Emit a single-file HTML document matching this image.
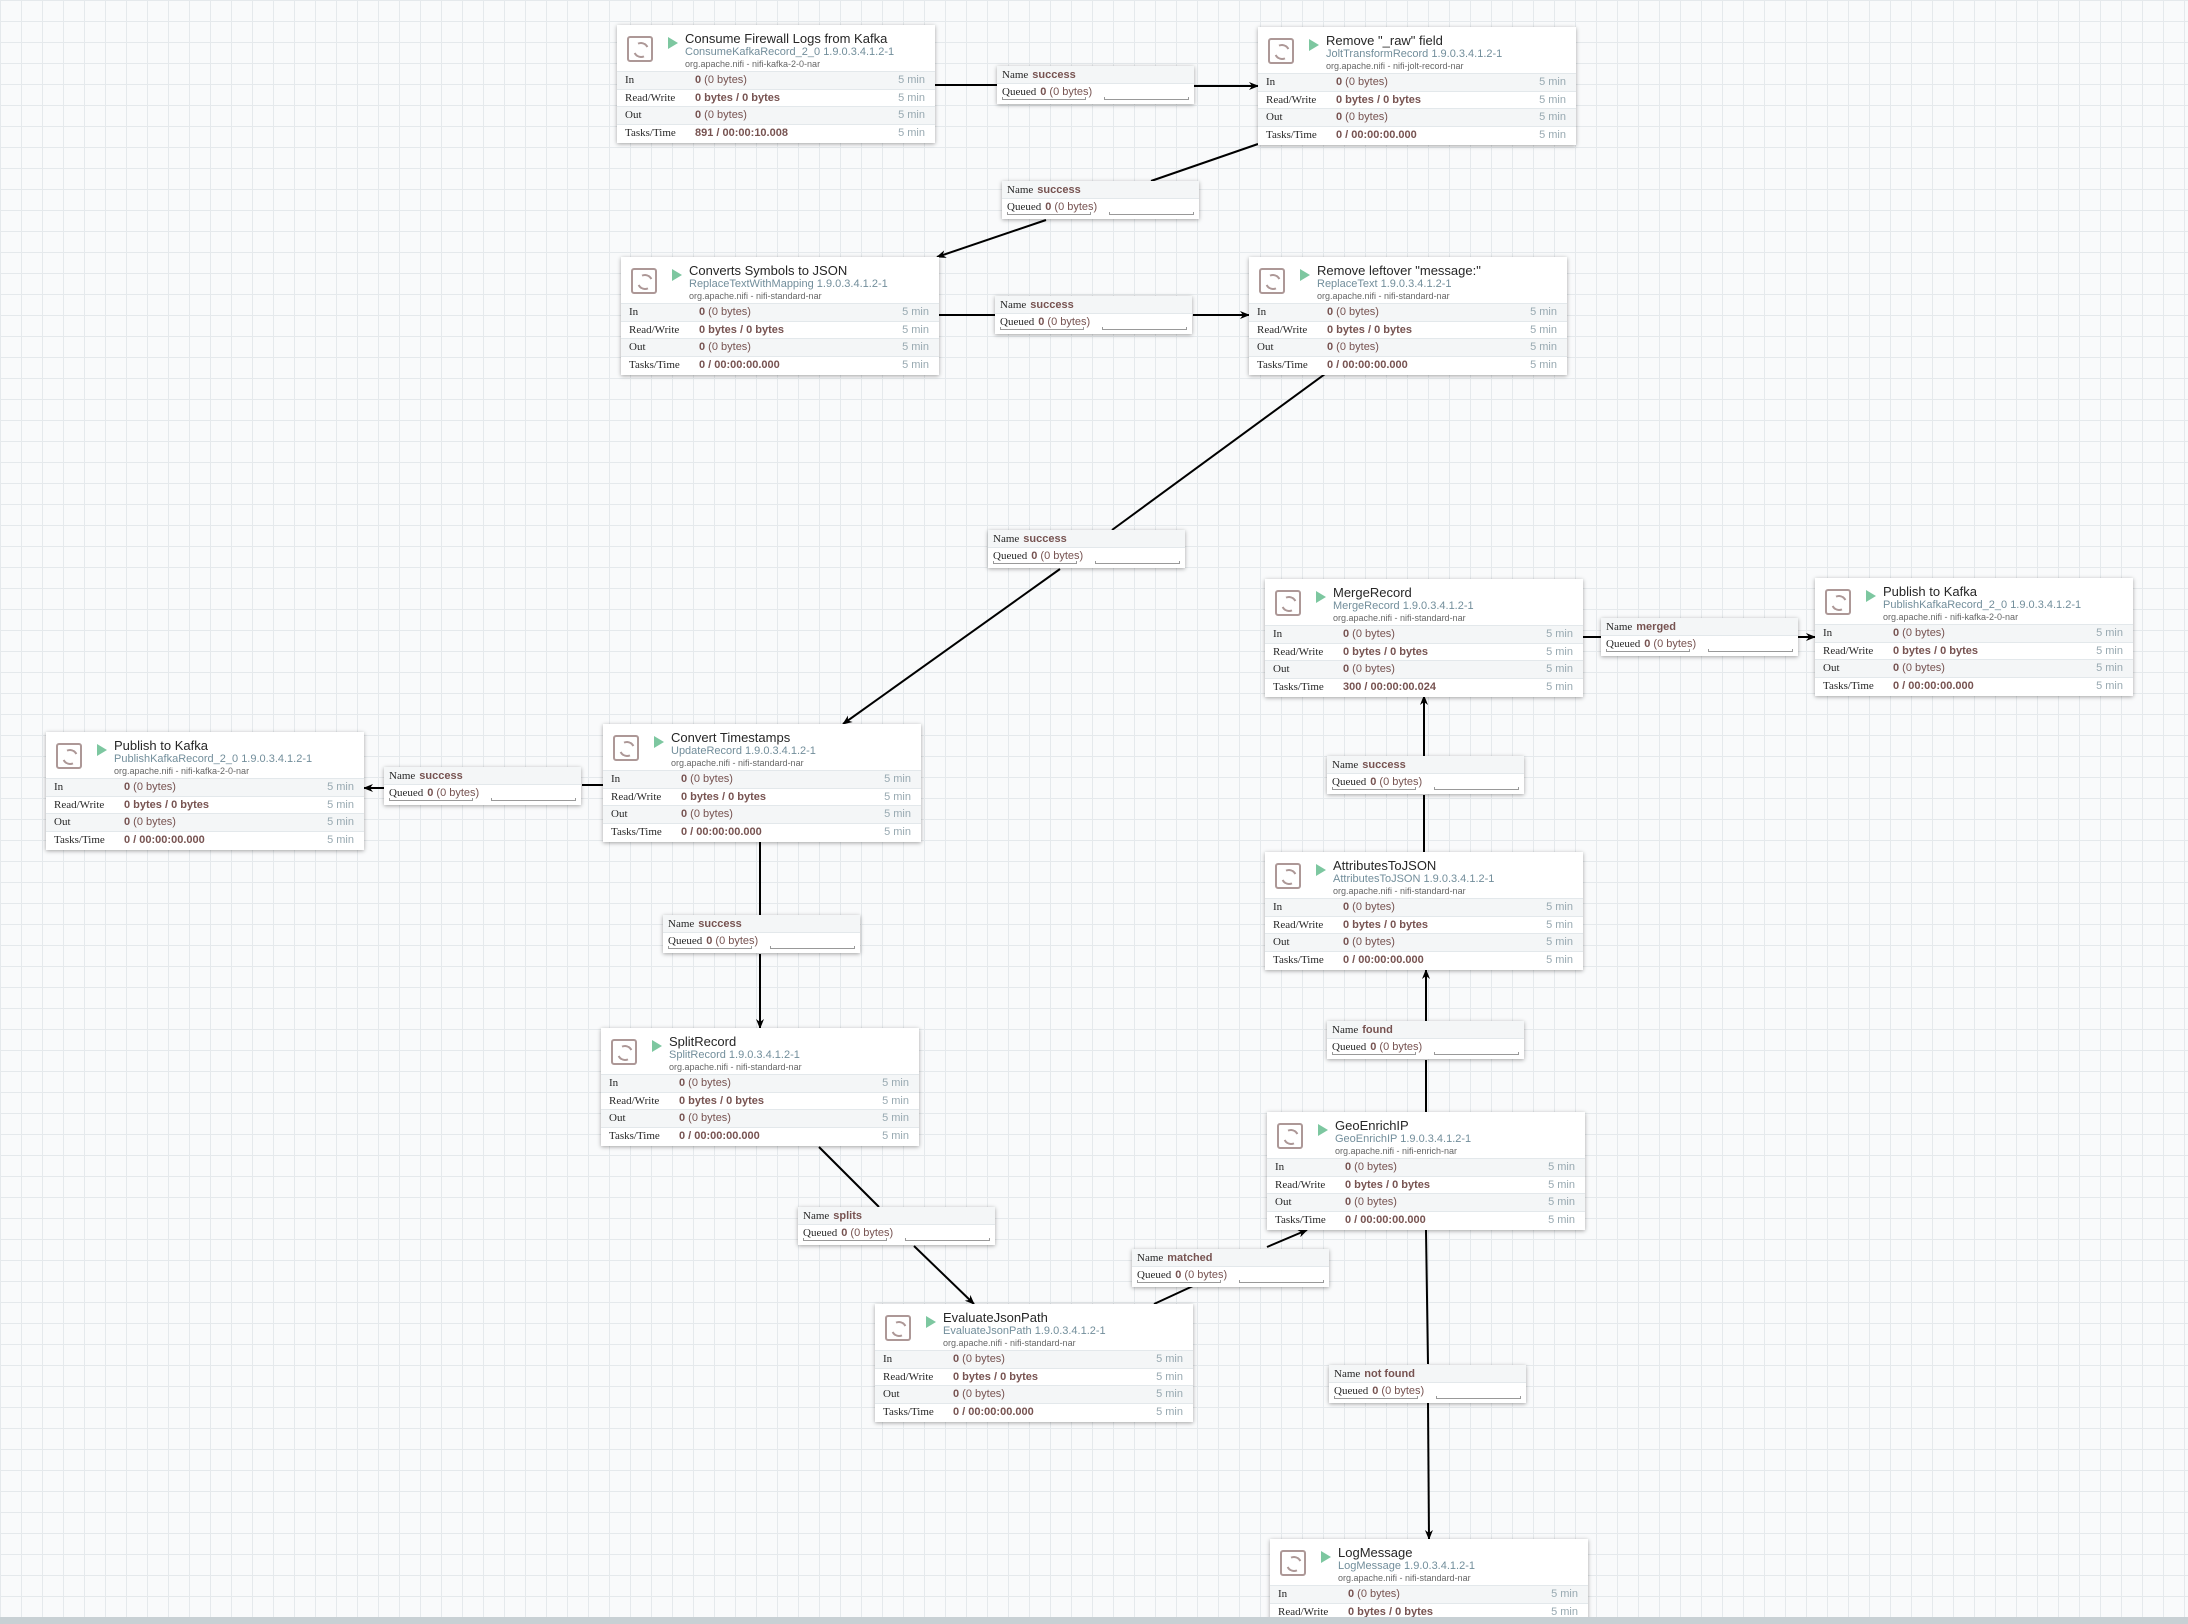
<!DOCTYPE html>
<html><head><meta charset="utf-8"><style>
*{margin:0;padding:0;box-sizing:border-box}
html,body{width:2188px;height:1624px;overflow:hidden}
body{position:relative;background-color:#f9fafb;
background-image:linear-gradient(#e5e9ec 1px,transparent 1px),linear-gradient(90deg,#e5e9ec 1px,transparent 1px);
background-size:21px 21px;font-family:"Liberation Sans",sans-serif}
.p{position:absolute;width:318px;height:118px;background:#fff;box-shadow:0 1px 4px rgba(0,0,0,.35)}
.ic{position:absolute;left:10px;top:11px;width:26px;height:26px;border:2px solid #ad9897;border-radius:3px}
.ic:after{content:"";position:absolute;left:4px;top:4px;width:12px;height:12px;border:2px solid #ad9897;border-radius:50%;border-left-color:transparent;border-right-color:transparent;transform:rotate(20deg)}
.pl{position:absolute;left:51px;top:12px;width:0;height:0;border-left:10px solid #7dc7a0;border-top:6px solid transparent;border-bottom:6px solid transparent}
.t{position:absolute;left:68px;top:6px;font-size:13px;color:#262626;white-space:nowrap}
.ty{position:absolute;left:68px;top:21px;font-size:11px;color:#728e9b;white-space:nowrap}
.b{position:absolute;left:68px;top:34px;font-size:9px;color:#666;white-space:nowrap}
.rows{position:absolute;left:0;right:0;top:46px}
.r{height:17.5px;position:relative;font-size:11px;line-height:17px;border-top:1px solid #e3e8eb}
.r:nth-child(odd){background:#f4f6f7}
.k{position:absolute;left:8px;font-family:"Liberation Serif",serif;color:#262626}
.v{position:absolute;left:78px;color:#775351}
.m{position:absolute;right:10px;color:#98a9b1}
.c{position:absolute;width:197px;height:38px;background:#fff;box-shadow:0 1px 4px rgba(0,0,0,.35);font-size:11px}
.c .n{height:18px;background:#f4f6f7;line-height:18px;padding-left:5px;font-family:"Liberation Serif",serif;color:#262626;border-bottom:1px solid #e3e8eb}
.c .n b{font-family:"Liberation Sans",sans-serif;color:#775351;margin-left:4px}
.c .q{height:19px;line-height:16px;padding-left:5px;font-family:"Liberation Serif",serif;color:#262626;position:relative}
.c .q span{font-family:"Liberation Sans",sans-serif;color:#775351;margin-left:4px}
.c .q i{position:absolute;bottom:3px;height:3px;border:1px solid #999;border-top:none;left:5px;width:84px}
.c .q i+i{left:107px;width:85px}
.bar{position:absolute;left:0;right:0;top:1617px;height:7px;background:#c8d0d4}
svg{position:absolute;left:0;top:0}
</style></head><body>
<svg width="2188" height="1624">
<defs><marker id="a" markerWidth="10" markerHeight="10" refX="9" refY="5" orient="auto" markerUnits="userSpaceOnUse"><path d="M0,1 L10,5 L0,9 L3,5 z" fill="#000"/></marker></defs>
<g stroke="#000" stroke-width="2" fill="none">
<line x1="933" y1="85" x2="997" y2="85"/><line x1="1194" y1="86" x2="1258" y2="86" marker-end="url(#a)"/>
<line x1="1258" y1="144" x2="1151" y2="181"/><line x1="1046" y1="220" x2="937" y2="257" marker-end="url(#a)"/>
<line x1="937" y1="315" x2="995" y2="315"/><line x1="1193" y1="315" x2="1249" y2="315" marker-end="url(#a)"/>
<line x1="1325" y1="374" x2="1112" y2="530"/><line x1="1060" y1="569" x2="843" y2="724" marker-end="url(#a)"/>
<line x1="603" y1="785" x2="582" y2="785"/><line x1="384" y1="788" x2="364" y2="788" marker-end="url(#a)"/>
<line x1="760" y1="842" x2="760" y2="915"/><line x1="760" y1="954" x2="760" y2="1028" marker-end="url(#a)"/>
<line x1="819" y1="1147" x2="879" y2="1207"/><line x1="914" y1="1246" x2="974" y2="1304" marker-end="url(#a)"/>
<line x1="1154" y1="1304" x2="1193" y2="1286"/><line x1="1267" y1="1247" x2="1307" y2="1230" marker-end="url(#a)"/>
<line x1="1426" y1="1112" x2="1426" y2="1060"/><line x1="1426" y1="1021" x2="1426" y2="970" marker-end="url(#a)"/>
<line x1="1424" y1="852" x2="1424" y2="795"/><line x1="1424" y1="756" x2="1424" y2="696" marker-end="url(#a)"/>
<line x1="1583" y1="637" x2="1601" y2="637"/><line x1="1798" y1="637" x2="1815" y2="637" marker-end="url(#a)"/>
<line x1="1426" y1="1230" x2="1428" y2="1364"/><line x1="1428" y1="1403" x2="1429" y2="1539" marker-end="url(#a)"/>
</g></svg>

<div class="p" style="left:617px;top:25px"><div class="ic"></div><div class="pl"></div><div class="t">Consume Firewall Logs from Kafka</div><div class="ty">ConsumeKafkaRecord_2_0 1.9.0.3.4.1.2-1</div><div class="b">org.apache.nifi - nifi-kafka-2-0-nar</div><div class="rows"><div class="r"><span class="k">In</span><span class="v"><b>0</b> (0 bytes)</span><span class="m">5 min</span></div><div class="r"><span class="k">Read/Write</span><span class="v"><b>0 bytes / 0 bytes</b></span><span class="m">5 min</span></div><div class="r"><span class="k">Out</span><span class="v"><b>0</b> (0 bytes)</span><span class="m">5 min</span></div><div class="r"><span class="k">Tasks/Time</span><span class="v"><b>891 / 00:00:10.008</b></span><span class="m">5 min</span></div></div></div>

<div class="p" style="left:1258px;top:27px"><div class="ic"></div><div class="pl"></div><div class="t">Remove "_raw" field</div><div class="ty">JoltTransformRecord 1.9.0.3.4.1.2-1</div><div class="b">org.apache.nifi - nifi-jolt-record-nar</div><div class="rows"><div class="r"><span class="k">In</span><span class="v"><b>0</b> (0 bytes)</span><span class="m">5 min</span></div><div class="r"><span class="k">Read/Write</span><span class="v"><b>0 bytes / 0 bytes</b></span><span class="m">5 min</span></div><div class="r"><span class="k">Out</span><span class="v"><b>0</b> (0 bytes)</span><span class="m">5 min</span></div><div class="r"><span class="k">Tasks/Time</span><span class="v"><b>0 / 00:00:00.000</b></span><span class="m">5 min</span></div></div></div>

<div class="p" style="left:621px;top:257px"><div class="ic"></div><div class="pl"></div><div class="t">Converts Symbols to JSON</div><div class="ty">ReplaceTextWithMapping 1.9.0.3.4.1.2-1</div><div class="b">org.apache.nifi - nifi-standard-nar</div><div class="rows"><div class="r"><span class="k">In</span><span class="v"><b>0</b> (0 bytes)</span><span class="m">5 min</span></div><div class="r"><span class="k">Read/Write</span><span class="v"><b>0 bytes / 0 bytes</b></span><span class="m">5 min</span></div><div class="r"><span class="k">Out</span><span class="v"><b>0</b> (0 bytes)</span><span class="m">5 min</span></div><div class="r"><span class="k">Tasks/Time</span><span class="v"><b>0 / 00:00:00.000</b></span><span class="m">5 min</span></div></div></div>

<div class="p" style="left:1249px;top:257px"><div class="ic"></div><div class="pl"></div><div class="t">Remove leftover "message:"</div><div class="ty">ReplaceText 1.9.0.3.4.1.2-1</div><div class="b">org.apache.nifi - nifi-standard-nar</div><div class="rows"><div class="r"><span class="k">In</span><span class="v"><b>0</b> (0 bytes)</span><span class="m">5 min</span></div><div class="r"><span class="k">Read/Write</span><span class="v"><b>0 bytes / 0 bytes</b></span><span class="m">5 min</span></div><div class="r"><span class="k">Out</span><span class="v"><b>0</b> (0 bytes)</span><span class="m">5 min</span></div><div class="r"><span class="k">Tasks/Time</span><span class="v"><b>0 / 00:00:00.000</b></span><span class="m">5 min</span></div></div></div>

<div class="p" style="left:1265px;top:579px"><div class="ic"></div><div class="pl"></div><div class="t">MergeRecord</div><div class="ty">MergeRecord 1.9.0.3.4.1.2-1</div><div class="b">org.apache.nifi - nifi-standard-nar</div><div class="rows"><div class="r"><span class="k">In</span><span class="v"><b>0</b> (0 bytes)</span><span class="m">5 min</span></div><div class="r"><span class="k">Read/Write</span><span class="v"><b>0 bytes / 0 bytes</b></span><span class="m">5 min</span></div><div class="r"><span class="k">Out</span><span class="v"><b>0</b> (0 bytes)</span><span class="m">5 min</span></div><div class="r"><span class="k">Tasks/Time</span><span class="v"><b>300 / 00:00:00.024</b></span><span class="m">5 min</span></div></div></div>

<div class="p" style="left:1815px;top:578px"><div class="ic"></div><div class="pl"></div><div class="t">Publish to Kafka</div><div class="ty">PublishKafkaRecord_2_0 1.9.0.3.4.1.2-1</div><div class="b">org.apache.nifi - nifi-kafka-2-0-nar</div><div class="rows"><div class="r"><span class="k">In</span><span class="v"><b>0</b> (0 bytes)</span><span class="m">5 min</span></div><div class="r"><span class="k">Read/Write</span><span class="v"><b>0 bytes / 0 bytes</b></span><span class="m">5 min</span></div><div class="r"><span class="k">Out</span><span class="v"><b>0</b> (0 bytes)</span><span class="m">5 min</span></div><div class="r"><span class="k">Tasks/Time</span><span class="v"><b>0 / 00:00:00.000</b></span><span class="m">5 min</span></div></div></div>

<div class="p" style="left:46px;top:732px"><div class="ic"></div><div class="pl"></div><div class="t">Publish to Kafka</div><div class="ty">PublishKafkaRecord_2_0 1.9.0.3.4.1.2-1</div><div class="b">org.apache.nifi - nifi-kafka-2-0-nar</div><div class="rows"><div class="r"><span class="k">In</span><span class="v"><b>0</b> (0 bytes)</span><span class="m">5 min</span></div><div class="r"><span class="k">Read/Write</span><span class="v"><b>0 bytes / 0 bytes</b></span><span class="m">5 min</span></div><div class="r"><span class="k">Out</span><span class="v"><b>0</b> (0 bytes)</span><span class="m">5 min</span></div><div class="r"><span class="k">Tasks/Time</span><span class="v"><b>0 / 00:00:00.000</b></span><span class="m">5 min</span></div></div></div>

<div class="p" style="left:603px;top:724px"><div class="ic"></div><div class="pl"></div><div class="t">Convert Timestamps</div><div class="ty">UpdateRecord 1.9.0.3.4.1.2-1</div><div class="b">org.apache.nifi - nifi-standard-nar</div><div class="rows"><div class="r"><span class="k">In</span><span class="v"><b>0</b> (0 bytes)</span><span class="m">5 min</span></div><div class="r"><span class="k">Read/Write</span><span class="v"><b>0 bytes / 0 bytes</b></span><span class="m">5 min</span></div><div class="r"><span class="k">Out</span><span class="v"><b>0</b> (0 bytes)</span><span class="m">5 min</span></div><div class="r"><span class="k">Tasks/Time</span><span class="v"><b>0 / 00:00:00.000</b></span><span class="m">5 min</span></div></div></div>

<div class="p" style="left:1265px;top:852px"><div class="ic"></div><div class="pl"></div><div class="t">AttributesToJSON</div><div class="ty">AttributesToJSON 1.9.0.3.4.1.2-1</div><div class="b">org.apache.nifi - nifi-standard-nar</div><div class="rows"><div class="r"><span class="k">In</span><span class="v"><b>0</b> (0 bytes)</span><span class="m">5 min</span></div><div class="r"><span class="k">Read/Write</span><span class="v"><b>0 bytes / 0 bytes</b></span><span class="m">5 min</span></div><div class="r"><span class="k">Out</span><span class="v"><b>0</b> (0 bytes)</span><span class="m">5 min</span></div><div class="r"><span class="k">Tasks/Time</span><span class="v"><b>0 / 00:00:00.000</b></span><span class="m">5 min</span></div></div></div>

<div class="p" style="left:601px;top:1028px"><div class="ic"></div><div class="pl"></div><div class="t">SplitRecord</div><div class="ty">SplitRecord 1.9.0.3.4.1.2-1</div><div class="b">org.apache.nifi - nifi-standard-nar</div><div class="rows"><div class="r"><span class="k">In</span><span class="v"><b>0</b> (0 bytes)</span><span class="m">5 min</span></div><div class="r"><span class="k">Read/Write</span><span class="v"><b>0 bytes / 0 bytes</b></span><span class="m">5 min</span></div><div class="r"><span class="k">Out</span><span class="v"><b>0</b> (0 bytes)</span><span class="m">5 min</span></div><div class="r"><span class="k">Tasks/Time</span><span class="v"><b>0 / 00:00:00.000</b></span><span class="m">5 min</span></div></div></div>

<div class="p" style="left:1267px;top:1112px"><div class="ic"></div><div class="pl"></div><div class="t">GeoEnrichIP</div><div class="ty">GeoEnrichIP 1.9.0.3.4.1.2-1</div><div class="b">org.apache.nifi - nifi-enrich-nar</div><div class="rows"><div class="r"><span class="k">In</span><span class="v"><b>0</b> (0 bytes)</span><span class="m">5 min</span></div><div class="r"><span class="k">Read/Write</span><span class="v"><b>0 bytes / 0 bytes</b></span><span class="m">5 min</span></div><div class="r"><span class="k">Out</span><span class="v"><b>0</b> (0 bytes)</span><span class="m">5 min</span></div><div class="r"><span class="k">Tasks/Time</span><span class="v"><b>0 / 00:00:00.000</b></span><span class="m">5 min</span></div></div></div>

<div class="p" style="left:875px;top:1304px"><div class="ic"></div><div class="pl"></div><div class="t">EvaluateJsonPath</div><div class="ty">EvaluateJsonPath 1.9.0.3.4.1.2-1</div><div class="b">org.apache.nifi - nifi-standard-nar</div><div class="rows"><div class="r"><span class="k">In</span><span class="v"><b>0</b> (0 bytes)</span><span class="m">5 min</span></div><div class="r"><span class="k">Read/Write</span><span class="v"><b>0 bytes / 0 bytes</b></span><span class="m">5 min</span></div><div class="r"><span class="k">Out</span><span class="v"><b>0</b> (0 bytes)</span><span class="m">5 min</span></div><div class="r"><span class="k">Tasks/Time</span><span class="v"><b>0 / 00:00:00.000</b></span><span class="m">5 min</span></div></div></div>

<div class="p" style="left:1270px;top:1539px"><div class="ic"></div><div class="pl"></div><div class="t">LogMessage</div><div class="ty">LogMessage 1.9.0.3.4.1.2-1</div><div class="b">org.apache.nifi - nifi-standard-nar</div><div class="rows"><div class="r"><span class="k">In</span><span class="v"><b>0</b> (0 bytes)</span><span class="m">5 min</span></div><div class="r"><span class="k">Read/Write</span><span class="v"><b>0 bytes / 0 bytes</b></span><span class="m">5 min</span></div><div class="r"><span class="k">Out</span><span class="v"><b>0</b> (0 bytes)</span><span class="m">5 min</span></div><div class="r"><span class="k">Tasks/Time</span><span class="v"><b>0 / 00:00:00.000</b></span><span class="m">5 min</span></div></div></div>

<div class="c" style="left:997px;top:66px"><div class="n">Name<b>success</b></div><div class="q">Queued<span><b>0</b> (0 bytes)</span><i></i><i></i></div></div>
<div class="c" style="left:1002px;top:181px"><div class="n">Name<b>success</b></div><div class="q">Queued<span><b>0</b> (0 bytes)</span><i></i><i></i></div></div>
<div class="c" style="left:995px;top:296px"><div class="n">Name<b>success</b></div><div class="q">Queued<span><b>0</b> (0 bytes)</span><i></i><i></i></div></div>
<div class="c" style="left:988px;top:530px"><div class="n">Name<b>success</b></div><div class="q">Queued<span><b>0</b> (0 bytes)</span><i></i><i></i></div></div>
<div class="c" style="left:1601px;top:618px"><div class="n">Name<b>merged</b></div><div class="q">Queued<span><b>0</b> (0 bytes)</span><i></i><i></i></div></div>
<div class="c" style="left:384px;top:767px"><div class="n">Name<b>success</b></div><div class="q">Queued<span><b>0</b> (0 bytes)</span><i></i><i></i></div></div>
<div class="c" style="left:1327px;top:756px"><div class="n">Name<b>success</b></div><div class="q">Queued<span><b>0</b> (0 bytes)</span><i></i><i></i></div></div>
<div class="c" style="left:663px;top:915px"><div class="n">Name<b>success</b></div><div class="q">Queued<span><b>0</b> (0 bytes)</span><i></i><i></i></div></div>
<div class="c" style="left:1327px;top:1021px"><div class="n">Name<b>found</b></div><div class="q">Queued<span><b>0</b> (0 bytes)</span><i></i><i></i></div></div>
<div class="c" style="left:798px;top:1207px"><div class="n">Name<b>splits</b></div><div class="q">Queued<span><b>0</b> (0 bytes)</span><i></i><i></i></div></div>
<div class="c" style="left:1132px;top:1249px"><div class="n">Name<b>matched</b></div><div class="q">Queued<span><b>0</b> (0 bytes)</span><i></i><i></i></div></div>
<div class="c" style="left:1329px;top:1365px"><div class="n">Name<b>not found</b></div><div class="q">Queued<span><b>0</b> (0 bytes)</span><i></i><i></i></div></div>

<div class="bar"></div>
</body></html>
